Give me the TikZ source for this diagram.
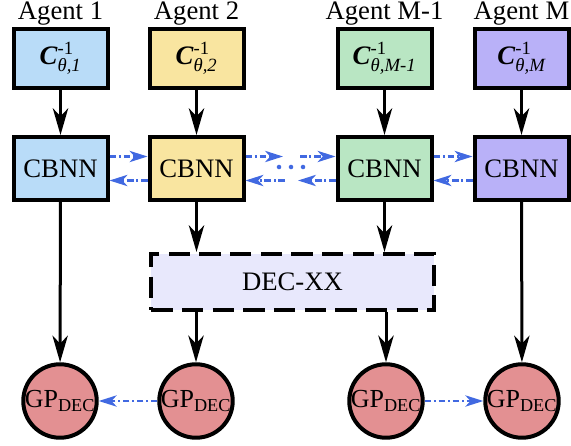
\documentclass[tikz,border=0pt]{standalone}
\usepackage{amsmath}
\usepackage{fontspec}
\setmainfont{Liberation Serif}
\usetikzlibrary{arrows.meta,positioning}
\definecolor{cAgentA}{HTML}{B9DCF8}
\definecolor{cAgentB}{HTML}{F9E5A0}
\definecolor{cAgentC}{HTML}{B9E6C3}
\definecolor{cAgentD}{HTML}{B9B1F8}
\definecolor{cDec}{HTML}{E8E8FC}
\definecolor{cGP}{HTML}{E39092}
\definecolor{cXfer}{HTML}{4169E1}

\begin{document}
\begin{tikzpicture}[
    x=0.75pt, y=-0.75pt,
    inv/.style={rectangle, draw, line width=3pt, minimum width=70.5pt, minimum height=44.25pt, inner sep=0pt, font=\fontsize{20}{22}\selectfont},
    nn/.style={rectangle, draw, line width=3pt, minimum width=70.5pt, minimum height=47.25pt, inner sep=0pt, font=\fontsize{20}{24}\selectfont},
    decbox/.style={rectangle, draw, line width=3pt, dash pattern=on 16pt off 7pt, fill=cDec, minimum width=212pt, minimum height=42pt, font=\fontsize{20}{24}\selectfont},
    gp/.style={circle, draw, line width=3pt, fill=cGP, minimum size=53pt, inner sep=0pt, font=\fontsize{19.5}{22}\selectfont},
    agent/.style={anchor=base, font=\fontsize{20}{24}\selectfont},
    arr/.style={-{Stealth[length=20pt, width=11.5pt, inset=6pt]}, line width=2.25pt},
    xarr/.style={-{Stealth[length=13.5pt, width=8.5pt, inset=4pt]}, line width=1.8pt, cXfer, dash pattern=on 5pt off 2pt on 1.5pt off 2pt}
]
\useasboundingbox (0,0) rectangle (571,446);

% one column per agent
\foreach \i/\x/\c/\s/\a in {1/60.5/cAgentA/1/1, 2/196.5/cAgentB/2/2, 3/384.5/cAgentC/M-1/M-1, 4/521.5/cAgentD/M/M} {
  \node[agent] (ag\i) at (\x,19) {Agent \a};
  \node[inv, fill=\c] (inv\i) at (\x,58.5) {\textbf{\textit{C}}$^{\text{-1}}_{\textit{θ,\s}}$};
  \node[nn, fill=\c] (nn\i) at (\x,168.5) {CBNN};
}
\node[decbox] (dec) at (292.5,282) {DEC-XX};
\node[gp] (gp1) at (60,401) {GP$_{\text{DEC}}$};
\node[gp] (gp2) at (196,401) {GP$_{\text{DEC}}$};
\node[gp] (gp3) at (386,401) {GP$_{\text{DEC}}$};
\node[gp] (gp4) at (522,401) {GP$_{\text{DEC}}$};

\foreach \i in {1,...,4} {
  \draw[arr] (inv\i) -- (nn\i);
}
\draw[arr] (nn1) -- (gp1);
\draw[arr] (nn4) -- (gp4);
\draw[arr] (nn2) -- (nn2 |- dec.north);
\draw[arr] (nn3) -- (nn3 |- dec.north);
\draw[arr] (dec.south -| gp2.north) -- (gp2);
\draw[arr] (dec.south -| gp3.north) -- (gp3);

% exchange between neighbours
\coordinate (m1) at (283,156.5);
\coordinate (m2) at (300,156.5);
\coordinate (m3) at (285,180.5);
\coordinate (m4) at (298,180.5);
\draw[xarr] ([yshift=9pt]nn1.east) -- ([yshift=9pt]nn2.west);
\draw[xarr] ([yshift=-9pt]nn2.west) -- ([yshift=-9pt]nn1.east);
\draw[xarr] ([yshift=9pt]nn2.east) -- (m1);
\draw[xarr] (m3) -- ([yshift=-9pt]nn2.east);
\draw[xarr] (m2) -- ([yshift=9pt]nn3.west);
\draw[xarr] ([yshift=-9pt]nn3.west) -- (m4);
\draw[xarr] ([yshift=9pt]nn3.east) -- ([yshift=9pt]nn4.west);
\draw[xarr] ([yshift=-9pt]nn4.west) -- ([yshift=-9pt]nn3.east);
\foreach \x in {279,291,303} {
  \fill[cXfer] (\x,167) circle (1.7pt);
}
\draw[xarr] (gp2) -- (gp1);
\draw[xarr] (gp3) -- (gp4);
\end{tikzpicture}
\end{document}
